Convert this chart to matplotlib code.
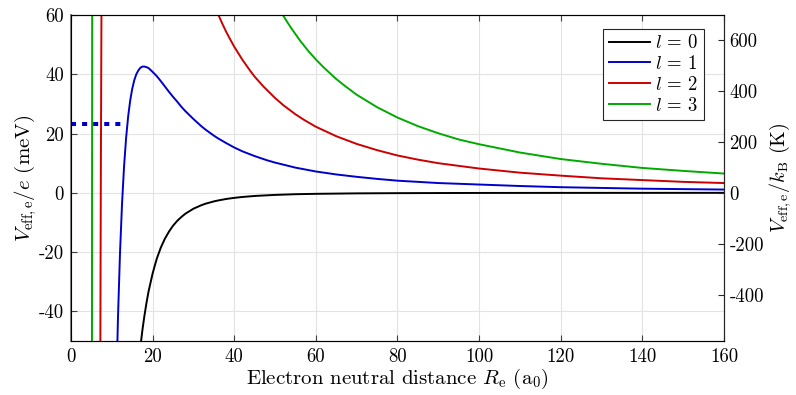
import numpy as np
import matplotlib
matplotlib.use("Agg")
import matplotlib.pyplot as plt

plt.rcParams['font.family'] = 'serif'
plt.rcParams['font.serif'] = ['cmr10', 'DejaVu Serif']
plt.rcParams['mathtext.fontset'] = 'cm'
plt.rcParams['axes.unicode_minus'] = False
plt.rcParams['axes.formatter.use_mathtext'] = True

# Données (R en a0, V en meV)
r_l0 = [17, 17.5, 18, 18.5, 19, 20, 21, 22, 23, 24, 25, 26, 27, 28, 30, 32, 33, 35, 36, 38, 40,
        42, 45, 50, 55, 60, 70, 80, 90, 100, 120, 140, 160]
v_l0 = [-52.0, -46.3, -41.4, -37.1, -33.3, -27.2, -22.3, -18.5, -15.5, -13.1, -11.1, -9.5, -8.2,
        -7.07, -5.36, -4.14, -3.66, -2.90, -2.59, -2.08, -1.70, -1.40, -1.06, -0.70, -0.47,
        -0.34, -0.18, -0.11, -0.07, -0.04, -0.02, -0.01, 0.0]

r_l1 = [11, 11.5, 12, 12.5, 13, 13.5, 14, 14.5, 15, 15.5, 16, 16.5, 17, 17.5, 18, 18.5, 19,
        20, 21, 22, 23, 24, 25, 26, 27, 28, 30, 32, 33, 35, 36, 38, 40, 42, 45, 48, 50, 55, 60,
        65, 70, 75, 80, 90, 100, 110, 120, 140, 160]
v_l1 = [-71.9, -42.6, -20.6, -3.8, 8.9, 18.5, 25.7, 31.1, 35.1, 38.0, 40.0, 41.3, 42.2, 42.6,
        42.6, 42.4, 42.1, 40.8, 39.4, 37.7, 35.9, 34.1, 32.4, 30.8, 29.1, 27.6, 24.9, 22.4,
        21.3, 19.3, 18.4, 16.8, 15.3, 14.0, 12.4, 11.0, 10.2, 8.5, 7.2, 6.2, 5.4, 4.7, 4.1,
        3.3, 2.8, 2.3, 1.9, 1.4, 1.1]

r_l2 = [7.0, 7.3, 7.6, 34, 35, 36, 37, 38, 39, 40, 42, 44, 45, 47, 50, 52, 55, 57, 60, 65, 70,
        75, 80, 85, 90, 100, 110, 120, 130, 140, 150, 160]
v_l2 = [-144, 1.8, 111, 67.4, 63.7, 60.4, 57.3, 54.4, 51.8, 49.3, 44.9, 41.0, 39.2, 36.1,
        32.0, 29.6, 26.5, 24.7, 22.3, 19.1, 16.5, 14.4, 12.6, 11.2, 10.0, 8.2, 6.8, 5.8, 4.9,
        4.3, 3.7, 3.3]

r_l3 = [5.0, 5.16, 5.4, 50, 51, 52, 53, 54, 56, 58, 60, 62, 65, 67, 70, 75, 80, 85, 90, 95,
        100, 110, 120, 130, 140, 150, 160]
v_l3 = [-421, 3, 489, 64.6, 62.1, 59.8, 57.6, 55.5, 51.6, 48.1, 45.0, 42.2, 38.4, 36.2, 33.1,
        28.9, 25.4, 22.5, 20.1, 18.0, 16.4, 13.6, 11.4, 9.8, 8.4, 7.4, 6.5]

# barrière (pointillés bleus)
r_barr = [0, 12.4]
v_barr = [23.2, 23.2]

meV_to_K = 11.6045
xticks = [0, 20, 40, 60, 80, 100, 120, 140, 160]
yticks = [-40, -20, 0, 20, 40, 60]
yticks_K = [-400, -200, 0, 200, 400, 600]

fig = plt.figure(figsize=(7.96, 3.95), dpi=100)
ax = fig.add_axes([0.0892, 0.1367, 0.8203, 0.8253])

lw = 1.4
l0, = ax.plot(r_l0, v_l0, color='k', lw=lw, label=r'$l\,=\,0$')
l1, = ax.plot(r_l1, v_l1, color='#0000cc', lw=lw, label=r'$l\,=\,1$')
l2, = ax.plot(r_l2, v_l2, color='#cc0000', lw=lw, label=r'$l\,=\,2$')
l3, = ax.plot(r_l3, v_l3, color='#00aa00', lw=lw, label=r'$l\,=\,3$')
ax.plot(r_barr, v_barr, color='#0000cc', lw=2.9, dashes=(1.25, 1.5),
        dash_capstyle='butt')

ax.set_xlim(0, 160)
ax.set_ylim(-50, 60)
ax.set_xticks(xticks)
ax.set_xticklabels([str(t) for t in xticks])
ax.set_yticks(yticks)
ax.set_yticklabels([str(t) for t in yticks])
ax.grid(True, color='#e3e3e3', lw=0.8)
ax.set_axisbelow(True)
ax.tick_params(direction='in', top=True, labelsize=13.5, length=4, color='#404040', pad=5)
ax.set_xlabel(r'Electron neutral distance $R_{\rm e}$ (a$_0$)', fontsize=15, labelpad=1)
ax.set_ylabel(r'$V_{\rm eff,e}/e$ (meV)', fontsize=15, labelpad=0)
for s in ['top', 'bottom', 'right']:
    ax.spines[s].set_color('#262626')
ax.spines['left'].set_color('#808080')
ax.spines['left'].set_linewidth(1.4)

ax2 = ax.twinx()
ax2.set_ylim(-50 * meV_to_K, 60 * meV_to_K)
ax2.set_yticks(yticks_K)
ax2.set_yticklabels([str(t) for t in yticks_K])
ax2.tick_params(direction='in', labelsize=13.5, length=4, color='#262626', pad=4)
ax2.set_ylabel(r'$V_{\rm eff,e}/k_{\rm B}$ (K)', fontsize=14.5, labelpad=2)
ax2.spines['right'].set_color('#262626')

leg = ax.legend(handles=[l0, l1, l2, l3], loc='upper right', bbox_to_anchor=(0.975, 0.97),
                fontsize=13.5, fancybox=False, framealpha=1, edgecolor='#262626',
                handlelength=2.2, borderpad=0.3, labelspacing=0.15, handletextpad=0.3,
                borderaxespad=0.2)
leg.get_frame().set_linewidth(0.8)
leg.set_zorder(5)

plt.savefig('out.png', dpi=100)
